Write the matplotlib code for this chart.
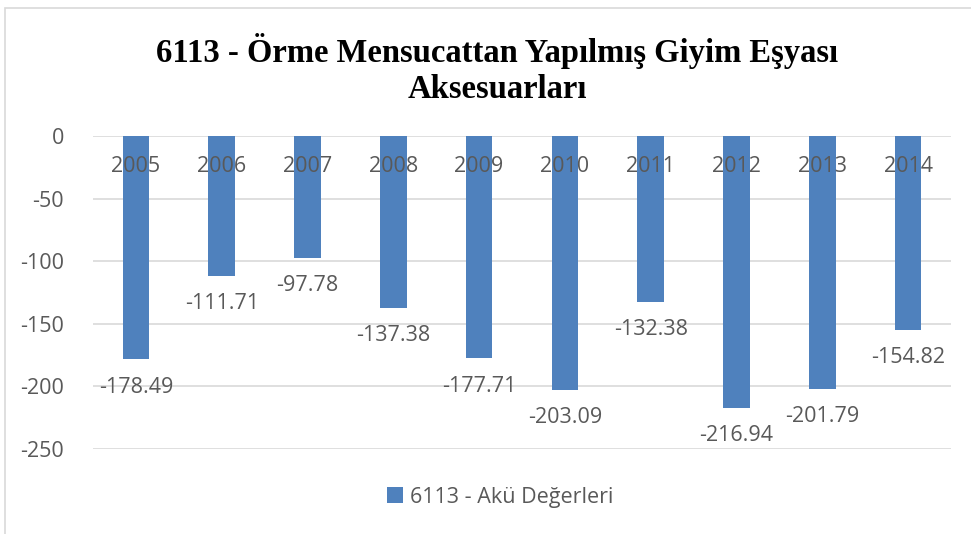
import matplotlib.pyplot as plt
from matplotlib.patches import Rectangle

years = ["2005", "2006", "2007", "2008", "2009", "2010", "2011", "2012", "2013", "2014"]
values = [-178.49, -111.71, -97.78, -137.38, -177.71, -203.09, -132.38, -216.94, -201.79, -154.82]
y_ticks = [0, -50, -100, -150, -200, -250]
series_name = "6113 - Akü Değerleri"
title = "6113 - Örme Mensucattan Yapılmış Giyim Eşyası\nAksesuarları"

BLUE = "#4F81BD"
TEXT = "#595959"
FS = 15.5
W, H = 971, 534

fig = plt.figure(figsize=(W / 100, H / 100), dpi=100)
fig.patch.set_facecolor("white")

# chart frame (only top and left edges visible in the original)
fig.patches.append(Rectangle((5 / W, -0.1), 1.2, (H - 8) / H + 0.1,
                             transform=fig.transFigure, fill=False,
                             edgecolor="#D9D9D9", linewidth=1.2))

ax = fig.add_axes([93 / W, 1 - 449 / H, (951 - 93) / W, (449 - 136) / H])
x = range(len(years))
ax.bar(x, values, width=0.31, color=BLUE, zorder=3, label=series_name)

ax.set_xlim(-0.5, len(years) - 0.5)
ax.set_ylim(-250, 0)
ax.set_yticks(y_ticks)
ax.set_yticklabels([str(v) for v in y_ticks], fontsize=FS, color=TEXT,
                   family="Open Sans")
ax.tick_params(axis="y", length=0, pad=21)
ax.set_xticks([])
ax.grid(axis="y", color="#D9D9D9", linewidth=1.2, zorder=0)
for s in ax.spines.values():
    s.set_visible(False)

for i, (yr, v) in enumerate(zip(years, values)):
    ax.text(i, -24.5, yr, ha="center", va="center", fontsize=FS, color=TEXT,
            family="Open Sans", zorder=4)
    ax.text(i, v - 22, f"{v:.2f}", ha="center", va="center", fontsize=FS,
            color=TEXT, family="Open Sans", zorder=4)

fig.text(497 / W, 1 - 69 / H, title, ha="center", va="center",
         fontsize=23.5, fontweight="bold", family="Liberation Serif",
         linespacing=1.2)

leg = fig.legend(loc="center", bbox_to_anchor=(500 / W, 1 - 497 / H),
                 frameon=False, prop={"family": "Open Sans", "size": FS},
                 handlelength=0.75, handleheight=0.75, handletextpad=0.3)
for t in leg.get_texts():
    t.set_color(TEXT)

fig.savefig("out.png", dpi=100)
